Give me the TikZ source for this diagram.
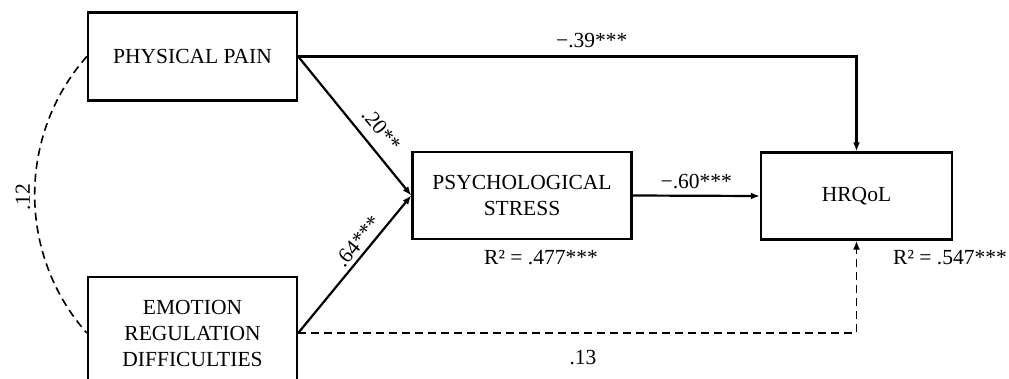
\documentclass[tikz,border=0pt]{standalone}
\usepackage{fontspec}
\setmainfont{Liberation Serif}
\usetikzlibrary{arrows.meta}
\begin{document}
\begin{tikzpicture}[x=1pt,y=-1pt,
  font=\fontsize{21.5}{26}\selectfont,
  box/.style={draw, line width=2.4pt, rectangle, inner sep=0pt, align=center},
  arr/.style={line width=2.2pt, -{Latex[length=9pt,width=7pt]}},
  darr/.style={line width=1.7pt, dash pattern=on 8pt off 5pt, -{Latex[length=9pt,width=7pt]}},
  dline/.style={line width=1.6pt, dash pattern=on 8pt off 5pt},
  lbl/.style={inner sep=0pt, outer sep=0pt}]
\useasboundingbox (0,0) rectangle (1009,378);
\clip (0,0) rectangle (1009,378);
\node[box, minimum width=209pt, minimum height=88pt] (pp) at (192.5,56.5) {PHYSICAL PAIN};
\node[box, minimum width=209pt, minimum height=112pt] (er) at (192.5,333) {EMOTION\\REGULATION\\DIFFICULTIES};
\node[box, minimum width=219pt, minimum height=87pt] (ps) at (522,195.5) {PSYCHOLOGICAL\\STRESS};
\node[box, minimum width=191pt, minimum height=87pt] (hr) at (856.5,196) {HRQoL};
\draw[arr] (pp.east) -| (hr.north) node[lbl, pos=0.263, above=9pt] {−.39***};
\draw[arr] (pp.east) -- (ps.west) node[lbl, pos=0.61, sloped, above=11pt] {.20**};
\draw[arr] (er.east) -- (ps.west) node[lbl, pos=0.61, sloped, above=5pt] {.64***};
\draw[arr] (ps.east) -- (hr.west) node[lbl, midway, above=7pt] {−.60***};
\draw[darr] (er.east) -| (hr.south) node[lbl, pos=0.255, below=17pt] {.13};
\draw[dline] (pp.west) .. controls (17.3,135.1) and (17.3,254.4) .. (er.west);
\node[lbl, rotate=90] (l12) at (23,197) {.12};
\node[lbl] (r1) at (541,258) {R² = .477***};
\node[lbl] (r2) at (950,258) {R² = .547***};
\end{tikzpicture}
\end{document}
